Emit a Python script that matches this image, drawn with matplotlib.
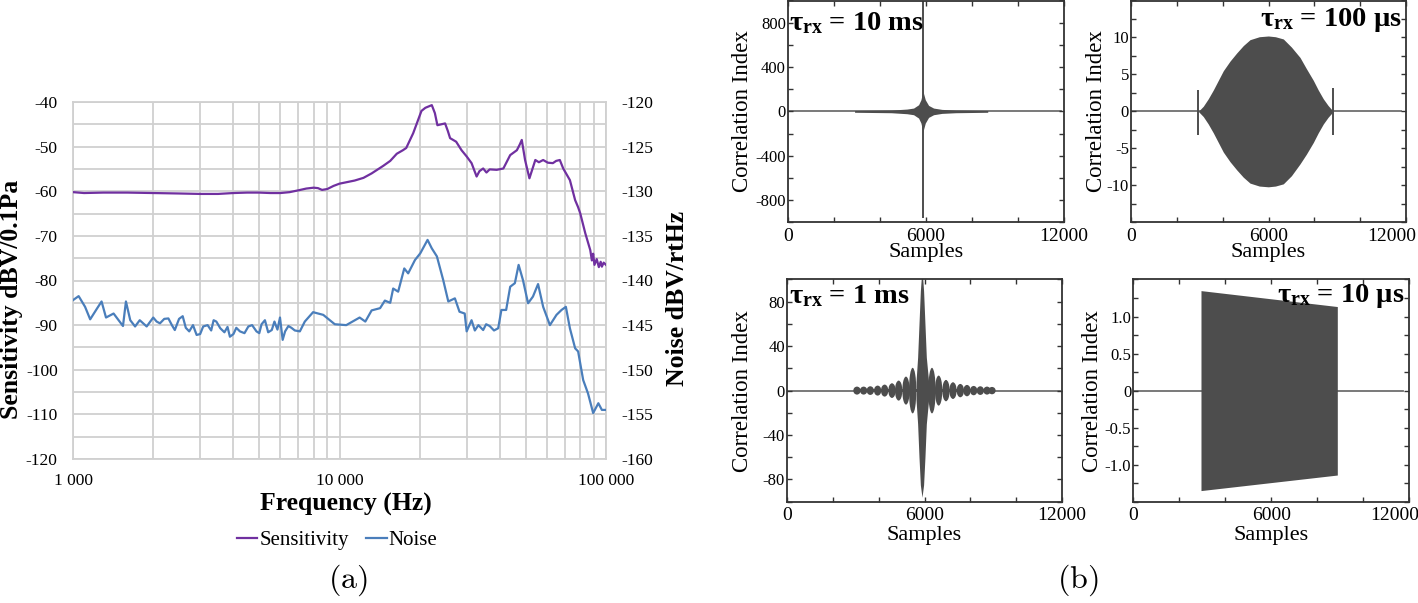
import matplotlib
matplotlib.use("Agg")
import matplotlib.pyplot as plt
from matplotlib.patches import Ellipse
from matplotlib.transforms import ScaledTranslation
from matplotlib.ticker import FixedLocator, FixedFormatter, MultipleLocator, NullFormatter

plt.rcParams['font.family'] = ['Liberation Serif', 'DejaVu Serif']
plt.rcParams['mathtext.fontset'] = 'custom'
plt.rcParams['mathtext.rm'] = 'Liberation Serif'
plt.rcParams['mathtext.bf'] = 'Liberation Serif:bold'
plt.rcParams['mathtext.it'] = 'Liberation Serif:italic'
plt.rcParams['axes.unicode_minus'] = False

# ---------------- (a) data ----------------
sens_freq = [1000, 1100, 1300, 1600, 2000, 2500, 3000, 3500, 4000, 4500, 5000, 5500, 6000,
             6500, 7000, 7500, 8000, 8300, 8600, 9000, 9500, 10000, 11400, 12300, 13200,
             14600, 15500, 16400, 17300, 17800, 18900, 20300, 21000, 22200, 22800, 23300,
             24900, 25500, 26000, 27400, 28700, 30000, 31300, 32700, 33500, 34600, 35600,
             36600, 38900, 41200, 43700, 46300, 47500, 48300, 49700, 51600, 54300, 56000,
             58100, 60500, 63200, 65000, 67100, 69100, 73200, 76600, 78500, 80000, 83600,
             87300, 88500, 89500, 90500, 92300, 94000, 95500, 96500, 98000, 100000]
sens_db = [-60.2, -60.4, -60.3, -60.3, -60.4, -60.5, -60.6, -60.6, -60.4, -60.3, -60.3, -60.4, -60.4,
           -60.2, -59.8, -59.4, -59.2, -59.3, -59.7, -59.5, -58.8, -58.3, -57.6, -57.0, -56.0,
           -54.3, -53.2, -51.6, -50.8, -50.3, -47.0, -42.0, -41.3, -40.7, -42.5, -45.2,
           -44.8, -46.5, -48.1, -48.9, -50.8, -52.2, -53.7, -56.7, -55.5, -54.9, -55.8,
           -55.1, -55.2, -54.9, -51.9, -50.8, -49.5, -48.5, -53.0, -57.1, -53.0, -53.5,
           -53.0, -53.6, -53.7, -53.2, -53.0, -54.9, -57.5, -62.0, -63.5, -64.9, -69.4,
           -73.2, -75.5, -74.0, -76.5, -75.2, -77.0, -75.8, -76.9, -76.0, -76.5]

noise_freq = [1000, 1050, 1110, 1160, 1230, 1280, 1330, 1420, 1540, 1580, 1640, 1710, 1780, 1890,
              2000, 2060, 2120, 2200, 2280, 2350, 2410, 2500, 2580, 2650, 2730, 2820, 2910, 3000,
              3080, 3200, 3300, 3370, 3450, 3570, 3700, 3800, 3880, 4000, 4100, 4230, 4400, 4550,
              4700, 4880, 5000, 5100, 5250, 5400, 5570, 5700, 5850, 5980, 6120, 6250, 6430, 6600,
              6800, 7100, 7410, 7960, 8690, 9600, 10600, 11900, 12500,
              13200, 14200, 14800, 15500, 15900, 16600, 17500, 18100, 19200, 20100, 21400,
              22200, 23200, 24500, 25600, 27100, 28200, 29500, 30000, 31300, 32200, 33200, 34600,
              35500, 36600, 38000, 39400, 40500, 42200, 43700, 45500, 47000, 48800, 51000, 53200,
              55600, 58100, 61600, 65200, 68100, 70700, 73200, 76600, 78600, 82100, 85600, 89500,
              93600, 96500, 100000]
noise_db = [-142.2, -141.75, -142.95, -144.35, -143.15, -142.35, -144.15, -143.7, -145.1, -142.35,
            -144.45, -145.15, -144.45, -145.15,
            -144.15, -144.6, -144.8, -144.3, -144.25, -145.0, -145.55, -144.3, -144.0, -145.3,
            -145.7, -145.0, -146.1, -146.0,
            -145.15, -145.0, -145.6, -144.45, -144.6, -145.35, -145.8, -145.2, -146.3, -146.0,
            -145.3, -145.7, -145.9, -145.15,
            -145.0, -145.7, -145.9, -144.9, -144.45, -145.8, -145.55, -144.6, -145.5, -144.15,
            -146.65, -145.7, -145.1, -145.3,
            -145.6, -145.7, -144.6, -143.55, -143.85, -144.9, -145.0, -144.15, -144.6,
            -143.35, -143.1, -142.25, -142.5, -140.9, -141.25, -138.65, -139.2, -137.7,
            -136.95, -135.45, -136.4, -137.3, -139.95, -142.35, -142.0, -143.5, -143.7, -145.7,
            -144.45, -145.6, -145.0, -145.55, -144.9, -145.1, -145.6, -145.35, -143.3, -143.3,
            -140.7, -140.3, -138.25, -139.95, -142.55, -141.8, -140.4, -142.95, -145.0, -143.85,
            -143.3, -142.95, -145.35, -147.6, -147.95, -151.15, -152.65, -154.85, -153.75,
            -154.5, -154.5]

sens_ticks = [-120, -110, -100, -90, -80, -70, -60, -50, -40]
noise_ticks = [-160, -155, -150, -145, -140, -135, -130, -125, -120]
freq_ticks = [1000, 10000, 100000]
freq_labels = ['1 000', '10 000', '100 000']

# ---------------- (b) data ----------------
# tau = 10 ms : envelope of the correlation and the central spike
s10 = [2900, 4500, 5180, 5470, 5688, 5790, 5850, 5878, 5906, 5980, 6124, 6341, 6704, 7300, 8700]
a10 = [8, 12, 21, 30, 60, 105, 160, 200, 160, 105, 54, 30, 18, 12, 8]
spike10_pos = [5878]
spike10_top = [1050]
spike10_bot = [-965]

# tau = 100 us : envelope and two edge spikes
s100 = [2937, 3155, 3370, 3592, 3810, 4028, 4320, 4611, 4900, 5193, 5600, 5992, 6300, 6646,
        7000, 7375, 7650, 7956, 8170, 8392, 8600, 8828]
up100 = [0, 0.7, 1.7, 2.9, 4.2, 5.5, 6.8, 7.9, 8.9, 9.7, 10.1, 10.2, 10.1, 9.8,
         8.7, 7.3, 5.8, 4.2, 2.9, 1.7, 0.8, 0]
lo100 = [0, -0.7, -1.7, -2.9, -4.2, -5.5, -6.8, -7.9, -8.9, -9.7, -10.1, -10.2, -10.1, -9.8,
         -8.7, -7.1, -5.8, -4.2, -2.9, -1.7, -0.8, 0]
spike100_pos = [2937, 8828]
spike100_top = [2.9, 3.2]
spike100_bot = [-3.2, -3.2]

# tau = 1 ms : side lobes (centre, amplitude) and main lobe envelope
lobe_pos = [3053, 3344, 3635, 3955, 4260, 4581, 4872, 5192, 5483,
            6326, 6617, 6937, 7243, 7563, 7854, 8145, 8436, 8727, 8945]
lobe_amp = [3.6, 3.6, 3.9, 4.5, 5.4, 6.6, 9.0, 12.6, 20.5,
            20.5, 13.5, 9.6, 7.5, 6.0, 5.1, 4.2, 3.9, 3.6, 3.3]
main_s = [5630, 5700, 5760, 5820, 5890, 5960, 6020, 6080, 6180]
main_up = [8, 30, 60, 90, 110, 90, 60, 30, 8]
main_lo = [-8, -30, -60, -85, -96, -85, -60, -30, -8]
span1 = [2907, 9090]

# tau = 10 us : block envelope
s10u = [2943, 8870]
up10u = [1.35, 1.135]
lo10u = [-1.35, -1.14]

baseline_end = [11900, 11780, 11900, 11740]

# ---------------- figure ----------------
W, H = 1418, 603
fig = plt.figure(figsize=(W / 100, H / 100), dpi=100)

def frac(x0, y0, x1, y1):
    return [x0 / W, 1 - y1 / H, (x1 - x0) / W, (y1 - y0) / H]

grid_c = '#d0d0d0'
ax = fig.add_axes(frac(73, 102, 606, 459))
ax.set_xscale('log')
ax.set_xlim(1000, 100000)
ax.set_ylim(-120, -40)
ax.set_yticks(sens_ticks)
ax.yaxis.set_minor_locator(MultipleLocator(5))
ax.xaxis.set_major_locator(FixedLocator(freq_ticks))
ax.xaxis.set_major_formatter(FixedFormatter(freq_labels))
ax.xaxis.set_minor_formatter(NullFormatter())
ax.grid(True, which='both', color=grid_c, linewidth=1.3)
ax.tick_params(which='both', length=0)
ax.tick_params(axis='y', labelsize=12.5, pad=11)
ax.tick_params(axis='x', labelsize=12.5, pad=10)
for sp in ax.spines.values():
    sp.set_color(grid_c)
    sp.set_linewidth(1.3)
ln1, = ax.plot(sens_freq, sens_db, color='#7030a0', linewidth=1.6, zorder=3)

ax2 = ax.twinx()
ax2.set_ylim(-160, -120)
ax2.set_yticks(noise_ticks)
ax2.tick_params(which='both', length=0, labelsize=12.5, pad=11)
for sp in ax2.spines.values():
    sp.set_visible(False)
ln2, = ax2.plot(noise_freq, noise_db, color='#4a7ebb', linewidth=1.6, zorder=3)

fig.text(12 / W, 1 - 299 / H, 'Sensitivity dBV/0.1Pa', rotation=90, ha='center', va='center',
         fontsize=18.5, fontweight='bold')
fig.text(677 / W, 1 - 298 / H, 'Noise dBV/rtHz', rotation=90, ha='center', va='center',
         fontsize=18.5, fontweight='bold')
fig.text(346 / W, 1 - 504 / H, 'Frequency (Hz)', ha='center', va='center',
         fontsize=18.5, fontweight='bold')
fig.legend([ln1, ln2], ['Sensitivity', 'Noise'], loc='center',
           bbox_to_anchor=(337 / W, 1 - 540 / H), ncol=2, frameon=False,
           handlelength=1.0, handletextpad=0.1, columnspacing=0.8, fontsize=15)
fig.text(348 / W, 1 - 580 / H, r'$\mathrm{(a)}$', math_fontfamily='cm', ha='center',
         va='center', fontsize=23)
fig.text(1078 / W, 1 - 580 / H, r'$\mathrm{(b)}$', math_fontfamily='cm', ha='center',
         va='center', fontsize=23)

fill_c = '#4d4d4d'
base_c = '#6e6e6e'

def panel(rect, ylim, ymajor, ylabels, yminor, bl_end, ylab_x, xlab_y, shift_last):
    a = fig.add_axes(rect)
    a.set_xlim(0, 12000)
    a.set_ylim(*ylim)
    a.xaxis.set_major_locator(FixedLocator([0, 6000, 12000]))
    a.xaxis.set_major_formatter(FixedFormatter(['0', '6000', '12000']))
    a.xaxis.set_minor_locator(FixedLocator([2000, 4000, 8000, 10000]))
    a.yaxis.set_major_locator(FixedLocator(ymajor))
    a.yaxis.set_major_formatter(FixedFormatter(ylabels))
    a.yaxis.set_minor_locator(MultipleLocator(yminor))
    a.tick_params(which='both', direction='in', top=True, right=True, length=3.5,
                  width=1.0, color='#333333')
    a.tick_params(axis='x', labelsize=14, pad=4)
    a.tick_params(axis='y', labelsize=12, pad=1.5)
    for sp in a.spines.values():
        sp.set_color('#333333')
        sp.set_linewidth(1.3)
    a.set_xlabel('Samples', fontsize=16)
    a.set_ylabel('Correlation Index', fontsize=16.5)
    a.xaxis.set_label_coords(0.5, xlab_y)
    a.yaxis.set_label_coords(ylab_x, 0.5)
    a.plot([0, bl_end], [0, 0], color=base_c, linewidth=1.3, zorder=1)
    if shift_last:
        lbl = a.xaxis.get_major_ticks()[2].label1
        lbl.set_horizontalalignment('right')
        lbl.set_transform(lbl.get_transform() + ScaledTranslation(0.10, 0, fig.dpi_scale_trans))
    return a

# tau = 10 ms
p1 = panel(frac(788, 0.5, 1063.5, 222.3), (-1000, 1000), [-800, -400, 0, 400, 800],
           ['-800', '-400', '0', '400', '800'], 200, baseline_end[0], -0.127, -0.092, False)
p1.fill_between(s10, [-v for v in a10], a10, color=fill_c, linewidth=0, zorder=2)
p1.vlines(spike10_pos, spike10_bot, spike10_top, color=fill_c, linewidth=1.4, zorder=2)
p1.text(0.005, 0.865, r'τ$_{\mathbf{rx}}$ = 10 ms', transform=p1.transAxes, ha='left',
        va='baseline', fontsize=20.5, fontweight='bold', zorder=5)

# tau = 100 us
p2 = panel(frac(1131, 0.5, 1406, 222.3), (-15, 15), [-10, -5, 0, 5, 10],
           ['-10', '-5', '0', '5', '10'], 2.5, baseline_end[1], -0.088, -0.092, True)
p2.fill_between(s100, lo100, up100, color=fill_c, linewidth=0, zorder=2)
p2.vlines(spike100_pos, spike100_bot, spike100_top, color=fill_c, linewidth=1.4, zorder=2)
p2.text(0.984, 0.883, r'τ$_{\mathbf{rx}}$ = 100 µs', transform=p2.transAxes, ha='right',
        va='baseline', fontsize=20.5, fontweight='bold', zorder=5)

# tau = 1 ms
p3 = panel(frac(787, 279.5, 1062, 501.7), (-100, 100), [-80, -40, 0, 40, 80],
           ['-80', '-40', '0', '40', '80'], 20, baseline_end[2], -0.124, -0.11, False)
p3.fill_between(span1, [-1.5, -1.5], [1.5, 1.5], color=fill_c, linewidth=0, zorder=2)
for c, amp in zip(lobe_pos, lobe_amp):
    p3.add_patch(Ellipse((c, 0), 320, 2 * amp, facecolor=fill_c, edgecolor='none', zorder=2))
p3.fill_between(main_s, main_lo, main_up, color=fill_c, linewidth=0, zorder=2)
p3.text(0.006, 0.892, r'τ$_{\mathbf{rx}}$ = 1 ms', transform=p3.transAxes, ha='left',
        va='baseline', fontsize=20.5, fontweight='bold', zorder=5)

# tau = 10 us
p4 = panel(frac(1133.3, 279.5, 1409.3, 501.7), (-1.5, 1.5), [-1.0, -0.5, 0, 0.5, 1.0],
           ['-1.0', '-0.5', '0', '0.5', '1.0'], 0.25, baseline_end[3], -0.108, -0.11, True)
p4.fill_between(s10u, lo10u, up10u, color=fill_c, linewidth=0, zorder=2)
p4.text(0.984, 0.90, r'τ$_{\mathbf{rx}}$ = 10 µs', transform=p4.transAxes, ha='right',
        va='baseline', fontsize=20.5, fontweight='bold', zorder=5)

fig.savefig('out.png', dpi=100)
